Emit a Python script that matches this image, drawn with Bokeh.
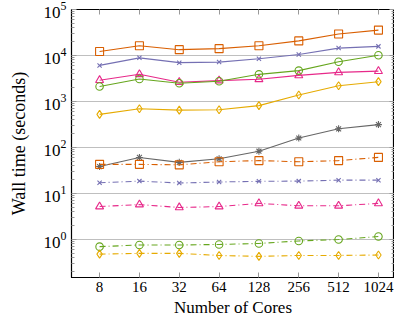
from bokeh.plotting import figure
from bokeh.models import (Range1d, FixedTicker, LogAxis, PrintfTickFormatter, LogTickFormatter,
                          CustomJSTickFormatter, CustomLabelingPolicy)
from bokeh.embed import file_html
from bokeh.resources import INLINE

cores = [8, 16, 32, 64, 128, 256, 512, 1024]
y_major = [1, 10, 100, 1000, 10000, 100000]
y_minor = [m * 10.0 ** e for e in range(-1, 5) for m in range(2, 10)]

# solid series
orange_solid = [12200, 16300, 13400, 14100, 16300, 20800, 29300, 35700]
purple_solid = [6100, 8900, 7000, 7200, 8500, 10500, 14500, 15800]
pink_solid = [2900, 3900, 2630, 2850, 3040, 3700, 4300, 4570]
green_solid = [2120, 3090, 2500, 2760, 3900, 4700, 7300, 10100]
yellow_solid = [525, 694, 650, 660, 815, 1390, 2200, 2700]
gray_solid = [38.6, 60.8, 47.6, 57, 83, 161, 255, 315]
# dash-dot series
orange_dd = [43, 43, 42, 49, 52, 49, 52, 61]
purple_dd = [17.1, 18.6, 16.9, 17.8, 18.4, 18.6, 19.5, 19.5]
pink_dd = [5.2, 5.75, 4.97, 5.2, 6.1, 5.4, 5.4, 6.1]
green_dd = [0.70, 0.76, 0.76, 0.78, 0.82, 0.93, 1.0, 1.16]
yellow_dd = [0.48, 0.50, 0.50, 0.45, 0.43, 0.45, 0.45, 0.46]

ORANGE, PURPLE, PINK, GREEN, YELLOW, GRAY = "#d95f02", "#7570b3", "#e7298a", "#66a61e", "#e6ab02", "#666666"
DASHDOT = "6 3 1 3"

series = [
    (orange_solid, ORANGE, "square", 8, "solid"),
    (purple_solid, PURPLE, "x", 6, "solid"),
    (pink_solid, PINK, "triangle", 8, "solid"),
    (green_solid, GREEN, "circle", 7.5, "solid"),
    (yellow_solid, YELLOW, "diamond", 8, "solid"),
    (gray_solid, GRAY, "asterisk", 7, "solid"),
    (orange_dd, ORANGE, "square", 8, DASHDOT),
    (purple_dd, PURPLE, "x", 6, DASHDOT),
    (pink_dd, PINK, "triangle", 8, DASHDOT),
    (green_dd, GREEN, "circle", 7.5, DASHDOT),
    (yellow_dd, YELLOW, "diamond", 8, DASHDOT),
]

FONT = "Liberation Serif"
TICK_GRAY = "#999999"

p = figure(width=394, height=319, x_axis_type="log", y_axis_type="log",
           x_range=Range1d(2 ** 2.295, 2 ** 10.403),
           y_range=Range1d(10 ** -0.826, 10 ** 5.0005),
           output_backend="svg", toolbar_location=None,
           min_border_left=71, min_border_top=9, min_border_bottom=39, min_border_right=0)

p.outline_line_color = "black"
p.outline_line_width = 1.2
p.background_fill_color = "white"
p.border_fill_color = "white"

p.xgrid.visible = False
p.ygrid.ticker = FixedTicker(ticks=y_major)
p.ygrid.grid_line_color = "#bfbfbf"
p.ygrid.grid_line_width = 1

xa = p.xaxis[0]
xa.ticker = FixedTicker(ticks=cores)
xa.formatter = PrintfTickFormatter(format="%d")
ya = p.yaxis[0]
ya.ticker = FixedTicker(ticks=y_major, minor_ticks=y_minor)
ya.formatter = LogTickFormatter()

for ax in (xa, ya):
    ax.axis_line_color = "black"
    ax.major_tick_in = 5
    ax.major_tick_out = 0
    ax.minor_tick_in = 3
    ax.minor_tick_out = 0
    ax.major_tick_line_color = TICK_GRAY
    ax.minor_tick_line_color = TICK_GRAY
    ax.major_label_text_font = FONT
    ax.major_label_text_color = "black"
    ax.axis_label_text_font = FONT
    ax.axis_label_text_font_style = "normal"
    ax.axis_label_text_color = "black"

xa.axis_label = "Number of Cores"
xa.major_label_text_font_size = "15px"
xa.axis_label_text_font_size = "17px"
xa.major_label_standoff = 4
xa.axis_label_standoff = 3

ya.axis_label = "Wall time (seconds)"
ya.major_label_text_font_size = "17px"
ya.axis_label_text_font_size = "18px"
ya.major_label_standoff = 5
ya.axis_label_standoff = 12

blank = CustomJSTickFormatter(code="return ''")

top = LogAxis(ticker=FixedTicker(ticks=cores), formatter=blank,
              major_label_policy=CustomLabelingPolicy(code="return new Set()"),
              major_label_text_font_size="1px", major_label_standoff=0,
              major_tick_in=5, major_tick_out=0,
              major_tick_line_color=TICK_GRAY, axis_line_color="black")
p.add_layout(top, "above")
right = LogAxis(ticker=FixedTicker(ticks=y_major, minor_ticks=y_minor), formatter=blank,
                major_label_policy=CustomLabelingPolicy(code="return new Set()"),
                major_label_text_font_size="1px", major_label_standoff=0,
                major_tick_in=5, major_tick_out=0, minor_tick_in=3, minor_tick_out=0,
                major_tick_line_color=TICK_GRAY, minor_tick_line_color=TICK_GRAY,
                axis_line_color="black")
p.add_layout(right, "right")

for vals, color, marker, size, dash in series:
    p.line(cores, vals, line_color=color, line_width=1.1, line_dash=dash)
    p.scatter(cores, vals, marker=marker, size=size, line_color=color, fill_color=None, line_width=1.1)

open("out.html", "w").write(file_html(p, INLINE))
